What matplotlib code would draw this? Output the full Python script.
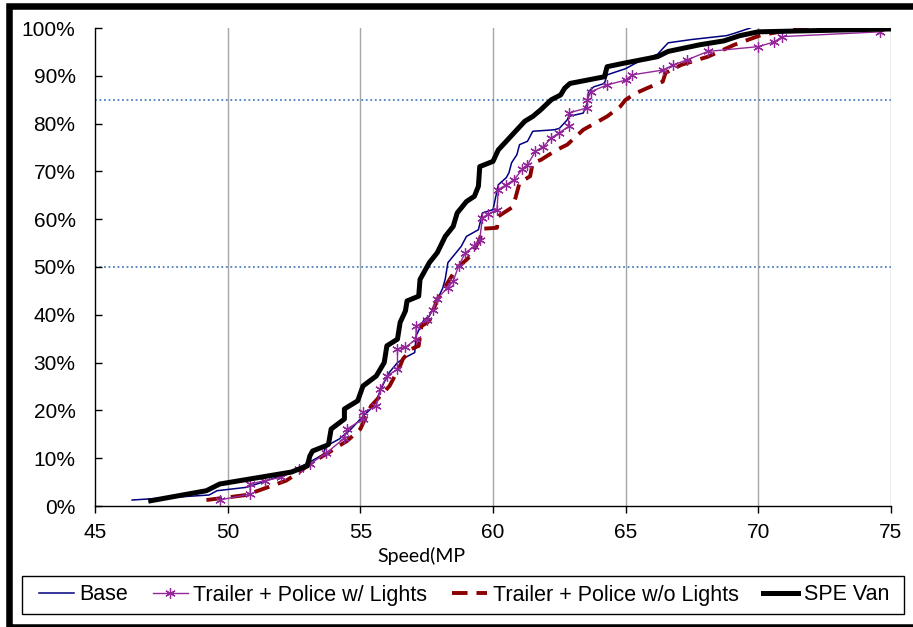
import matplotlib as mpl
mpl.use('Agg')
import matplotlib.pyplot as plt
from matplotlib.patches import Rectangle
from matplotlib.ticker import PercentFormatter

# cumulative speed distributions (speed in mph, cumulative percent)
base_speed = [46.4, 49.3, 49.6, 50.7, 51.1, 52.2, 53.1, 53.6, 53.7, 54.2, 54.6, 55.0,
              55.5, 55.9, 56.1, 56.4, 56.7, 57.05, 57.1, 57.4, 57.6, 57.9, 58.1, 58.2,
              58.3, 58.8, 59.0, 59.45, 59.6, 60.0, 60.2, 60.5, 60.6, 60.7, 60.9, 61.0,
              61.3, 61.5, 62.3, 62.5, 62.8, 62.85, 63.4, 63.55, 63.6, 63.8, 64.2, 64.3,
              65.0, 65.6, 66.2, 66.6, 67.5, 68.8, 69.1, 69.7]
base_pct = [1.25, 2.3, 3.2, 3.9, 4.6, 6.7, 9.2, 10.8, 12.5, 14.0, 15.8, 18.2,
            20.9, 25.9, 28.0, 30.0, 31.1, 32.1, 35.6, 39.0, 39.7, 43.2, 45.5, 47.5,
            50.9, 54.3, 56.4, 57.8, 61.3, 62.0, 67.2, 68.7, 69.7, 71.8, 73.5, 75.6,
            76.3, 78.4, 78.7, 79.0, 80.8, 81.5, 82.2, 84.3, 86.7, 87.7, 88.4, 90.2,
            91.5, 93.3, 94.5, 96.9, 97.6, 98.4, 98.9, 100.0]

lights_speed = [49.7, 50.85, 50.85, 51.4, 52.0, 52.7, 53.1, 53.7, 54.4, 54.5, 55.1, 55.1,
                55.6, 55.75, 56.0, 56.4, 56.4, 56.7, 57.1, 57.1, 57.5, 57.75, 57.9, 58.3,
                58.5, 58.7, 58.96, 59.3, 59.5, 59.6, 59.8, 60.15, 60.2, 60.5, 60.8, 61.1,
                61.3, 61.6, 61.9, 62.2, 62.5, 62.85, 62.85, 63.55, 63.55, 63.7, 64.3, 65.0,
                65.25, 66.4, 66.8, 67.3, 68.1, 70.0, 70.6, 70.9, 74.6]
lights_pct = [1.25, 2.5, 4.6, 5.3, 6.0, 7.7, 8.8, 11.0, 14.2, 16.1, 18.2, 19.6,
              20.9, 24.4, 27.2, 28.6, 32.8, 33.2, 34.9, 37.6, 39.0, 41.1, 43.4, 45.7,
              47.0, 50.2, 53.0, 54.3, 55.7, 60.3, 61.0, 62.0, 66.2, 67.2, 68.3, 70.4,
              71.4, 74.2, 75.2, 77.0, 78.1, 79.4, 82.2, 83.3, 85.0, 86.7, 88.1, 89.1,
              90.2, 91.2, 92.3, 93.3, 95.1, 96.1, 97.1, 98.2, 99.2]

nolights_speed = [49.2, 50.7, 51.5, 52.2, 52.6, 53.2, 53.6, 53.9, 54.2, 54.5, 55.0, 55.4,
                  56.1, 56.5, 56.6, 56.9, 57.2, 57.3, 57.6, 57.9, 58.3, 58.6, 59.15, 59.5,
                  59.6, 60.15, 60.2, 60.7, 60.85, 61.0, 61.4, 61.5, 61.8, 62.4, 62.8, 63.4,
                  64.3, 64.8, 65.0, 65.4, 65.8, 66.4, 66.5, 67.1, 68.1, 69.1, 70.1, 71.2,
                  72.2]
nolights_pct = [1.25, 2.3, 3.9, 5.3, 6.7, 9.2, 10.5, 11.5, 12.6, 13.6, 16.1, 20.9,
                25.1, 29.3, 30.7, 32.8, 33.5, 37.6, 38.7, 43.2, 46.8, 49.5, 52.3, 55.7,
                58.0, 58.2, 60.6, 62.4, 64.5, 67.6, 69.0, 71.8, 72.4, 74.5, 75.6, 78.7,
                81.5, 83.6, 85.0, 86.4, 87.4, 88.8, 90.6, 92.3, 94.0, 96.5, 98.5, 99.6,
                100.0]

van_speed = [47.1, 49.2, 49.7, 52.4, 53.0, 53.1, 53.2, 53.7, 53.8, 53.9, 54.4, 54.4,
             54.9, 55.1, 55.6, 55.9, 56.0, 56.4, 56.5, 56.7, 56.76, 57.2, 57.25, 57.6,
             57.9, 58.2, 58.5, 58.65, 59.0, 59.3, 59.45, 59.5, 60.0, 60.2, 60.5, 60.9,
             61.2, 61.5, 61.8, 62.2, 62.55, 62.7, 62.9, 64.2, 64.3, 64.9, 66.2, 66.6,
             67.8, 68.7, 69.3, 70.0, 75.0]
van_pct = [1.1, 3.2, 4.6, 7.1, 8.4, 10.5, 11.5, 12.6, 12.9, 16.1, 18.2, 20.3,
           22.0, 25.1, 27.2, 30.0, 33.5, 34.9, 38.4, 40.8, 42.9, 43.9, 47.4, 50.9,
           53.0, 56.4, 58.5, 61.3, 63.7, 64.8, 66.9, 71.0, 72.1, 74.5, 76.3, 78.7,
           80.5, 81.5, 82.9, 85.0, 86.0, 87.4, 88.4, 89.8, 91.9, 92.6, 94.0, 95.1,
           96.5, 97.3, 98.4, 99.2, 99.8]

ref_levels = [50, 85]
x_ticks = [45, 50, 55, 60, 65, 70, 75]
y_ticks = list(range(0, 101, 10))

plt.rcParams['font.family'] = ['Liberation Sans', 'DejaVu Sans']

W, H = 913, 627
fig = plt.figure(figsize=(W / 100, H / 100), dpi=100)
ax = fig.add_axes([95 / W, (H - 506) / H, (891 - 95) / W, (506 - 28) / H])

for x in x_ticks[1:]:
    ax.axvline(x, color='#a6a6a6', lw=1.0, zorder=1)
for lvl in ref_levels:
    ax.axhline(lvl, color='#4f81bd', lw=1.3, ls=(0, (1, 1.5)), zorder=1)

ax.plot(base_speed, base_pct, color='#000080', lw=1.1, label='Base', zorder=3)
ax.plot(lights_speed, lights_pct, color='#93279a', lw=1.0, marker=(6, 2, 0),
        markersize=7.5, markeredgewidth=0.9, label='Trailer + Police w/ Lights', zorder=4)
ax.plot(nolights_speed, nolights_pct, color='#8b0000', lw=2.8, dashes=(4, 2.3),
        label='Trailer + Police w/o Lights', zorder=3)
ax.plot(van_speed, van_pct, color='black', lw=3.6, label='SPE Van', zorder=5)

ax.set_xlim(45, 75)
ax.set_ylim(0, 100)
ax.set_xticks(x_ticks)
ax.set_yticks(y_ticks)
ax.yaxis.set_major_formatter(PercentFormatter(decimals=0))
for s in ['top', 'right']:
    ax.spines[s].set_visible(False)
for s in ['left', 'bottom']:
    ax.spines[s].set_linewidth(1.0)
ax.tick_params(axis='y', direction='in', length=5, width=1.0, pad=14, labelsize=15)
ax.tick_params(axis='x', direction='out', length=5, width=1.0, pad=7, labelsize=15)

fig.text(421 / W, (H - 556) / H, 'Speed(MP', family='Lato', fontsize=14,
         ha='center', va='center')

# legend box drawn separately so the entries can sit compactly in the middle
fig.add_artist(Rectangle((22 / W, (H - 614) / H), (904 - 22) / W, 38 / H,
                         transform=fig.transFigure, fill=False,
                         edgecolor='black', lw=1.0))
fig.legend(loc='center', ncol=4, fontsize=15.5, frameon=False,
           bbox_to_anchor=(464 / W, (H - 595) / H),
           handlelength=1.63, handletextpad=0.25, columnspacing=1.15)

# thick outer frame, cropped on the right
fig.add_artist(Rectangle((9 / W, 0), 1.0, (H - 6) / H, transform=fig.transFigure,
                         fill=False, edgecolor='black', lw=4.7))

fig.savefig('out.png', dpi=100)
